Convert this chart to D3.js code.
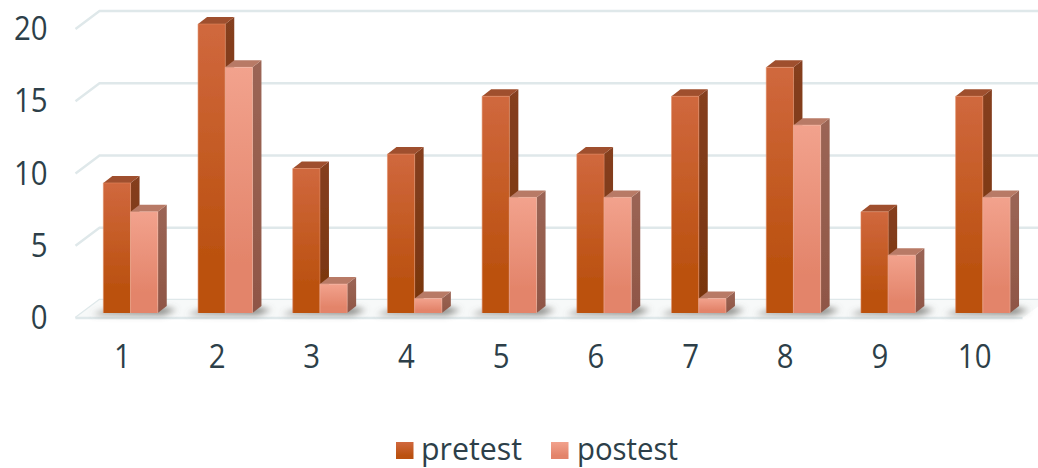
<!DOCTYPE html>
<html>
<head>
<meta charset="utf-8">
<script src="https://cdn.jsdelivr.net/npm/d3@7"></script>
<style>
  html, body { margin: 0; padding: 0; background: #fff; overflow: hidden; }
  text { font-family: "Open Sans", sans-serif; fill: #2d3f49; }
</style>
</head>
<body>
<svg id="chart" width="1038" height="468"></svg>
<script>
const categories = ["1", "2", "3", "4", "5", "6", "7", "8", "9", "10"];
const seriesNames = ["pretest", "postest"];
const pretest = [9, 20, 10, 11, 15, 11, 15, 17, 7, 15];
const postest = [7, 17, 2, 1, 8, 8, 1, 13, 4, 8];
const yTicks = [0, 5, 10, 15, 20];

const svg = d3.select("#chart");

// Front face of the plot box; the floor and back wall are offset from it.
const x = d3.scaleBand().domain(categories).range([75.5, 1022.5]);
const y = d3.scaleLinear().domain([0, 20]).range([313, 24]);
const inner = d3.scaleBand().domain(seriesNames).range([0, 54.4]);

// Oblique projection offsets
const wallDx = 24, wallDy = 18;      // front edge of the floor to the back wall
const frontDy = 5;                   // bar base up from the floor's front edge
const barShift = 7.7;                // bar base right of the floor's front edge
const sideDx = 9, sideDy = 7;        // depth of each bar

const palette = {
  pretest: { top: "#9f4f2d", hi: "#d0683e", lo: "#bb5110", sideHi: "#853f20", sideLo: "#78350c", edge: "#e08a62" },
  postest: { top: "#b87a66", hi: "#f2a28d", lo: "#e3846a", sideHi: "#9b6555", sideLo: "#8f5646", edge: "#f3b3a0" }
};

const defs = svg.append("defs");
seriesNames.forEach(name => {
  const p = palette[name];
  const front = defs.append("linearGradient").attr("id", `front-${name}`).attr("x1", 0).attr("y1", 0).attr("x2", 0).attr("y2", 1);
  front.append("stop").attr("offset", "0%").attr("stop-color", p.hi);
  front.append("stop").attr("offset", "80%").attr("stop-color", p.lo);
  front.append("stop").attr("offset", "100%").attr("stop-color", p.lo);
  const side = defs.append("linearGradient").attr("id", `side-${name}`).attr("x1", 0).attr("y1", 0).attr("x2", 0).attr("y2", 1);
  side.append("stop").attr("offset", "0%").attr("stop-color", p.sideHi);
  side.append("stop").attr("offset", "100%").attr("stop-color", p.sideLo);
});
defs.append("filter").attr("id", "floor-shadow").attr("x", "-5%").attr("y", "-200%").attr("width", "110%").attr("height", "500%")
  .append("feGaussianBlur").attr("stdDeviation", 3);
defs.append("filter").attr("id", "soft").attr("x", "-5%").attr("y", "-5%").attr("width", "110%").attr("height", "110%")
  .append("feGaussianBlur").attr("stdDeviation", 0.45);

// Back wall gridlines with their short returns down the left side
const gridColor = "#dfe8ea";
const grid = svg.append("g").attr("fill", "none").attr("stroke", gridColor).attr("stroke-width", 2.4);
grid.selectAll("path").data(yTicks).join("path")
  .attr("d", v => {
    const frontY = y(v) + frontDy;
    return d3.line()([[x.range()[0], frontY], [x.range()[0] + wallDx, frontY - wallDy], [1045, frontY - wallDy]]);
  });

// Floor: faint fill and the front edge
svg.append("path")
  .attr("d", d3.line()([[x.range()[0], y(0) + frontDy], [x.range()[0] + wallDx, y(0) + frontDy - wallDy], [x.range()[1] + wallDx, y(0) + frontDy - wallDy], [x.range()[1], y(0) + frontDy]]) + "Z")
  .attr("fill", "#f7f9f9");
svg.append("path")
  .attr("d", d3.line()([[x.range()[0], y(0) + frontDy], [x.range()[1], y(0) + frontDy]]))
  .attr("stroke", gridColor).attr("stroke-width", 2.6).attr("fill", "none");

// Contact shadows on the floor
svg.append("g").attr("filter", "url(#floor-shadow)").selectAll("path")
  .data(categories).join("path")
  .attr("fill", "#6b6a67").attr("opacity", 0.8)
  .attr("d", c => {
    const x0 = x(c) + x.bandwidth() / 2 + barShift - inner.range()[1] / 2;
    const x1 = x0 + inner.range()[1];
    const base = y(0);
    return d3.line()([[x0 - 11, base + 1.5], [x1 + 5, base + 2], [x1 + 19, base - 3], [x1 + 5, base - 6], [x0, base - 2]]);
  });

// Bars: side, top and front faces, pretest first so postest overlaps it
const valuesBySeries = { pretest, postest };
const bars = svg.append("g").attr("filter", "url(#soft)");
categories.forEach((c, i) => {
  const groupLeft = x(c) + x.bandwidth() / 2 + barShift - inner.range()[1] / 2;
  seriesNames.forEach(name => {
    const v = valuesBySeries[name][i];
    const left = groupLeft + inner(name), w = inner.bandwidth();
    const top = y(v), base = y(0);
    const g = bars.append("g");
    g.append("path").attr("fill", `url(#side-${name})`)
      .attr("d", d3.line()([[left + w, top], [left + w + sideDx, top - sideDy], [left + w + sideDx, base - sideDy], [left + w, base]]) + "Z");
    g.append("path").attr("fill", palette[name].top)
      .attr("d", d3.line()([[left, top], [left + sideDx, top - sideDy], [left + w + sideDx, top - sideDy], [left + w, top]]) + "Z");
    g.append("rect").attr("x", left).attr("y", top).attr("width", w).attr("height", base - top)
      .attr("fill", `url(#front-${name})`);
    g.append("path").attr("fill", "none").attr("stroke", palette[name].edge).attr("stroke-width", 0.8).attr("stroke-opacity", 0.7)
      .attr("d", d3.line()([[left, base], [left, top], [left + w, top], [left + w, base]]));
  });
});

// Digits run a little narrower than the face's default advance
const digitWidth = 16.8;

// Value axis labels
svg.append("g").selectAll("text").data(yTicks).join("text")
  .attr("x", 47.5).attr("y", v => y(v) + 16)
  .attr("text-anchor", "end").attr("font-size", 32)
  .attr("textLength", d => String(d).length * digitWidth).attr("lengthAdjust", "spacingAndGlyphs")
  .text(d => d);

// Category labels
svg.append("g").selectAll("text").data(categories).join("text")
  .attr("x", c => x(c) + x.bandwidth() / 2 - 0.5).attr("y", 368)
  .attr("text-anchor", "middle").attr("font-size", 32)
  .attr("textLength", d => d.length * digitWidth).attr("lengthAdjust", "spacingAndGlyphs")
  .text(d => d);

// Legend
const legendItems = [
  { name: "pretest", swatch: 396, label: 421 },
  { name: "postest", swatch: 551, label: 577 }
];
const legend = svg.append("g");
legend.selectAll("rect").data(legendItems).join("rect")
  .attr("x", d => d.swatch).attr("y", 442).attr("width", 17.5).attr("height", 17)
  .attr("fill", d => `url(#front-${d.name})`);
legend.selectAll("text").data(legendItems).join("text")
  .attr("x", d => d.label).attr("y", 460).attr("font-size", 31)
  .attr("textLength", 101).attr("lengthAdjust", "spacingAndGlyphs")
  .text(d => d.name);
</script>
</body>
</html>
